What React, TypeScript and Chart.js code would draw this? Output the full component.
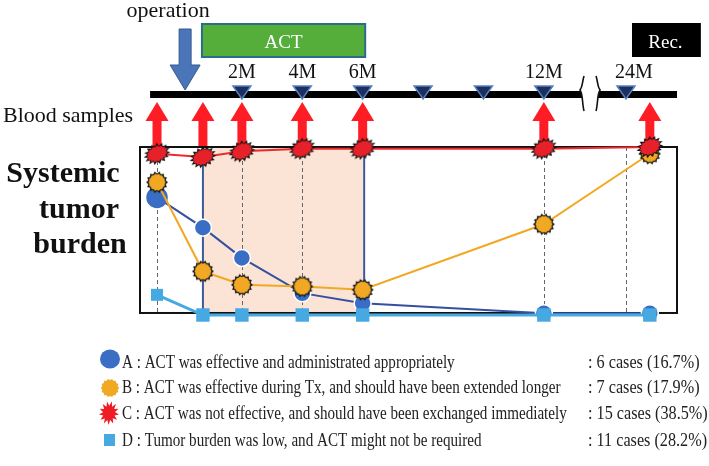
import React, { useEffect, useRef } from 'react';
import { Chart, registerables } from 'chart.js';

Chart.register(...registerables);

// ---------- data ----------
const SAMPLE_NAMES = ['Pre-op', 'Post-op', '2M', '4M', '6M', '12M', '24M'];
const SAMPLE_POS = [-0.81, 0.71, 2, 4, 6, 12, 15.51]; // position on the (broken) month axis
const SERIES_A = [70, 52, 34, 13, 7, 1, 1];
const SERIES_B = [79, 26, 18, 17, 15, 54, 96];
const SERIES_C = [96, 94, 97.5, 99, 99, 99, 100];
const SERIES_D = [12, 0, 0, 0, 0, 0, 0];

const VISIT_POS = [2, 4, 6, 8, 10, 12, 14.72];
const VISIT_LABELS = ['2M', '4M', '6M', '', '', '12M', '24M'];
const DASHED_POS = [-0.81, 2, 4, 12, 14.72];

const ACT_START = 0.71;
const ACT_END = 6.05;
const OPERATION_POS = 0.12;
const BREAK_POS = 13.53;
const TIMELINE_START = -1.04;
const REC_START = 14.92;
const REC_END = 17.2;

const LEGEND_TEXT = [
  'A : ACT was effective and administrated appropriately',
  'B : ACT was effective during Tx, and should have been extended longer',
  'C : ACT was not effective, and should have been exchanged immediately',
  'D : Tumor burden was low, and ACT might not be required',
];
const LEGEND_COUNTS = [
  ': 6 cases (16.7%)',
  ': 7 cases (17.9%)',
  ': 15 cases (38.5%)',
  ': 11 cases (28.2%)',
];

const X_MIN = -1.374;
const X_MAX = 16.41;

const SERIF = '"Liberation Serif", "Times New Roman", serif';

// ---------- marker images ----------
function spikyPath(g: CanvasRenderingContext2D, rx: number, ry: number, spikes: number, inner: number) {
  g.beginPath();
  for (let i = 0; i < spikes * 2; i++) {
    const a = (i * Math.PI) / spikes;
    const r = i % 2 === 0 ? 1 : inner;
    g.lineTo(Math.cos(a) * rx * r, Math.sin(a) * ry * r);
  }
  g.closePath();
}

function makeMarker(
  size: number,
  rotDeg: number,
  layers: { rx: number; ry: number; spikes: number; inner: number; fill: string }[]
) {
  const c = document.createElement('canvas');
  c.width = size;
  c.height = size;
  const g = c.getContext('2d')!;
  g.translate(size / 2, size / 2);
  g.rotate((rotDeg * Math.PI) / 180);
  for (const l of layers) {
    spikyPath(g, l.rx, l.ry, l.spikes, l.inner);
    g.fillStyle = l.fill;
    g.fill();
  }
  return c;
}

const ORANGE = '#f1a924';
const RED = '#e6212a';
const BLUE = '#3a6ec4';
const LIGHTBLUE = '#46a9e1';

export default function App() {
  const ref = useRef<HTMLCanvasElement>(null);

  useEffect(() => {
    const canvas = ref.current!;
    const markerB = makeMarker(26, 0, [
      { rx: 11, ry: 11, spikes: 14, inner: 0.8, fill: '#111' },
      { rx: 8.6, ry: 8.6, spikes: 14, inner: 0.9, fill: ORANGE },
    ]);
    const markerC = makeMarker(32, -25, [
      { rx: 14, ry: 10.5, spikes: 15, inner: 0.72, fill: '#111' },
      { rx: 11, ry: 7.8, spikes: 15, inner: 0.85, fill: RED },
    ]);
    const legendB = makeMarker(22, 0, [{ rx: 9.2, ry: 9.2, spikes: 14, inner: 0.86, fill: ORANGE }]);
    const legendC = makeMarker(30, 8, [{ rx: 10, ry: 12, spikes: 13, inner: 0.6, fill: '#ee1c25' }]);

    const pts = (vals: number[]) => SAMPLE_POS.map((x, i) => ({ x, y: vals[i] }));

    const decor = {
      id: 'decor',
      beforeDatasetsDraw(chart: any) {
        const ctx: CanvasRenderingContext2D = chart.ctx;
        const xs = chart.scales.x;
        const ys = chart.scales.y;
        const px = (m: number) => xs.getPixelForValue(m);
        const py = (v: number) => ys.getPixelForValue(v);
        const top = py(100);
        const bottom = py(1.2);
        const left = chart.chartArea.left;
        const right = chart.chartArea.right;
        ctx.save();

        // ACT shaded period
        ctx.fillStyle = '#fbe4d5';
        ctx.fillRect(px(ACT_START), top, px(ACT_END) - px(ACT_START), bottom - top);

        // dashed guides
        ctx.strokeStyle = '#666';
        ctx.lineWidth = 1;
        ctx.setLineDash([4, 3]);
        for (const m of DASHED_POS) {
          ctx.beginPath();
          ctx.moveTo(Math.round(px(m)) + 0.5, top);
          ctx.lineTo(Math.round(px(m)) + 0.5, bottom);
          ctx.stroke();
        }
        ctx.setLineDash([]);

        // ACT period borders
        ctx.strokeStyle = '#3b5a9c';
        ctx.lineWidth = 2;
        for (const m of [ACT_START, ACT_END]) {
          ctx.beginPath();
          ctx.moveTo(px(m), top);
          ctx.lineTo(px(m), bottom);
          ctx.stroke();
        }

        // frame
        ctx.strokeStyle = '#111';
        ctx.lineWidth = 2;
        ctx.strokeRect(left, top, right - left, bottom - top);

        // ---------- timeline ----------
        ctx.fillStyle = '#111';
        ctx.font = `22px ${SERIF}`;
        ctx.textAlign = 'center';
        ctx.textBaseline = 'alphabetic';
        ctx.fillText('operation', px(OPERATION_POS) - 17, 17);

        const ox = px(OPERATION_POS);
        ctx.beginPath();
        ctx.moveTo(ox - 6, 29);
        ctx.lineTo(ox + 6, 29);
        ctx.lineTo(ox + 6, 65);
        ctx.lineTo(ox + 15, 65);
        ctx.lineTo(ox, 90);
        ctx.lineTo(ox - 15, 65);
        ctx.lineTo(ox - 6, 65);
        ctx.closePath();
        ctx.fillStyle = '#4a76b9';
        ctx.fill();
        ctx.strokeStyle = '#35598f';
        ctx.lineWidth = 1;
        ctx.stroke();

        // ACT box
        const ax0 = px(ACT_START) - 1;
        const ax1 = px(ACT_END) + 1;
        ctx.fillStyle = '#55ae3a';
        ctx.fillRect(ax0, 24, ax1 - ax0, 33);
        ctx.strokeStyle = '#2b6c8a';
        ctx.lineWidth = 2;
        ctx.strokeRect(ax0, 24, ax1 - ax0, 33);
        ctx.fillStyle = '#fff';
        ctx.font = `19px ${SERIF}`;
        ctx.fillText('ACT', (ax0 + ax1) / 2, 48);

        // Rec. box
        const rx0 = px(REC_START);
        const rx1 = px(REC_END);
        ctx.fillStyle = '#000';
        ctx.fillRect(rx0, 23, rx1 - rx0, 34);
        ctx.fillStyle = '#fff';
        ctx.fillText('Rec.', (rx0 + rx1) / 2 - 1, 48);

        // bar
        ctx.fillStyle = '#000';
        ctx.fillRect(px(TIMELINE_START), 91, right - px(TIMELINE_START), 7);

        // break symbol
        const bx = px(BREAK_POS);
        const leftDown = () => {
          ctx.moveTo(bx - 6, 76);
          ctx.bezierCurveTo(bx - 8, 82, bx - 7, 86, bx - 10, 90);
          ctx.bezierCurveTo(bx - 7, 94, bx - 8, 104, bx - 6, 111);
        };
        const rightUp = () => {
          ctx.lineTo(bx + 6, 111);
          ctx.bezierCurveTo(bx + 8, 104, bx + 7, 94, bx + 10, 90);
          ctx.bezierCurveTo(bx + 7, 86, bx + 8, 82, bx + 6, 76);
        };
        ctx.beginPath();
        leftDown();
        rightUp();
        ctx.closePath();
        ctx.fillStyle = '#fff';
        ctx.fill();
        ctx.strokeStyle = '#111';
        ctx.lineWidth = 1.6;
        ctx.beginPath();
        leftDown();
        ctx.stroke();
        ctx.beginPath();
        ctx.moveTo(bx + 6, 111);
        ctx.bezierCurveTo(bx + 8, 104, bx + 7, 94, bx + 10, 90);
        ctx.bezierCurveTo(bx + 7, 86, bx + 8, 82, bx + 6, 76);
        ctx.stroke();

        // visit triangles and labels
        ctx.font = `20px ${SERIF}`;
        VISIT_POS.forEach((m, i) => {
          const cx = px(m);
          ctx.beginPath();
          ctx.moveTo(cx - 9, 86);
          ctx.lineTo(cx + 9, 86);
          ctx.lineTo(cx, 99);
          ctx.closePath();
          ctx.fillStyle = '#1d2f5c';
          ctx.fill();
          ctx.strokeStyle = '#5681c2';
          ctx.lineWidth = 1.5;
          ctx.stroke();
          if (VISIT_LABELS[i]) {
            ctx.fillStyle = '#111';
            ctx.fillText(VISIT_LABELS[i], cx + (i === VISIT_POS.length - 1 ? 8 : 0), 78);
          }
        });

        // blood sample arrows
        ctx.fillStyle = '#ff1d25';
        SAMPLE_POS.forEach((m) => {
          const cx = px(m);
          ctx.beginPath();
          ctx.moveTo(cx, 102);
          ctx.lineTo(cx + 11.5, 121);
          ctx.lineTo(cx + 4.5, 121);
          ctx.lineTo(cx + 4.5, 146);
          ctx.lineTo(cx - 4.5, 146);
          ctx.lineTo(cx - 4.5, 121);
          ctx.lineTo(cx - 11.5, 121);
          ctx.closePath();
          ctx.fill();
        });

        // left labels
        ctx.fillStyle = '#111';
        ctx.textAlign = 'left';
        ctx.font = `22px ${SERIF}`;
        ctx.fillText('Blood samples', 3, 122);
        ctx.textAlign = 'center';
        ctx.font = `bold 30px ${SERIF}`;
        ctx.fillText('Systemic', 63, 182);
        ctx.fillText('tumor', 79, 218);
        ctx.fillText('burden', 80, 253);

        // ---------- legend ----------
        const rowY = [363, 388, 414, 441];
        ctx.textBaseline = 'middle';
        ctx.textAlign = 'left';
        ctx.font = `18px ${SERIF}`;
        ctx.fillStyle = '#222';
        LEGEND_TEXT.forEach((t, i) => {
          const y = rowY[i];
          ctx.save();
          ctx.translate(122, y);
          ctx.scale(0.84, 1);
          ctx.fillText(t, 0, 0);
          ctx.restore();
          ctx.save();
          ctx.translate(588, y);
          ctx.scale(0.9, 1);
          ctx.fillText(LEGEND_COUNTS[i], 0, 0);
          ctx.restore();
        });
        // legend icons
        ctx.fillStyle = BLUE;
        ctx.beginPath();
        ctx.ellipse(110, 359, 10, 9.5, 0, 0, Math.PI * 2);
        ctx.fill();
        ctx.drawImage(legendB, 110 - legendB.width / 2, 388 - legendB.height / 2);
        ctx.drawImage(legendC, 109 - legendC.width / 2, 413 - legendC.height / 2);
        ctx.fillStyle = LIGHTBLUE;
        ctx.fillRect(104, 434, 11, 12);

        ctx.restore();
      },
    };

    const chart = new Chart(canvas, {
      type: 'line',
      data: {
        datasets: [
          {
            label: 'A',
            data: pts(SERIES_A),
            order: 4,
            borderColor: '#34509f',
            borderWidth: 2,
            backgroundColor: BLUE,
            pointBackgroundColor: BLUE,
            pointBorderColor: ['#3a6ec4', '#fff', '#fff', '#fff', '#fff', '#fff', '#fff'],
            pointBorderWidth: 1.5,
            pointRadius: [10, 8.5, 8.5, 8.5, 8.5, 8.5, 8.5],
            pointStyle: 'circle',
            tension: 0,
            clip: false,
          } as any,
          {
            label: 'D',
            data: pts(SERIES_D),
            order: 3,
            borderColor: LIGHTBLUE,
            borderWidth: 3,
            backgroundColor: LIGHTBLUE,
            pointBackgroundColor: LIGHTBLUE,
            pointBorderColor: LIGHTBLUE,
            pointBorderWidth: 0,
            pointRadius: [8.5, 9.5, 9.5, 9.5, 9.5, 9.5, 9.5],
            pointStyle: 'rect',
            tension: 0,
            clip: false,
          } as any,
          {
            label: 'B',
            data: pts(SERIES_B),
            order: 2,
            borderColor: ORANGE,
            borderWidth: 2,
            pointStyle: markerB,
            pointRadius: 10,
            tension: 0,
            clip: false,
          } as any,
          {
            label: 'C',
            data: pts(SERIES_C),
            order: 1,
            borderColor: '#ee2a2f',
            borderWidth: 2,
            pointStyle: markerC,
            pointRadius: 10,
            tension: 0,
            clip: false,
          } as any,
        ],
      },
      options: {
        animation: false,
        responsive: false,
        devicePixelRatio: 1,
        layout: { padding: { left: 140, right: 32, top: 147, bottom: 151 } },
        scales: {
          x: { type: 'linear', min: X_MIN, max: X_MAX, display: false },
          y: { type: 'linear', min: 0, max: 100, display: false },
        },
        plugins: {
          legend: { display: false },
          tooltip: { enabled: false },
          title: { display: false },
        },
        events: [],
      },
      plugins: [decor],
    });
    return () => chart.destroy();
  }, []);

  return (
    <div style={{ position: 'fixed', left: 0, top: 0, width: 709, height: 466, background: '#fff' }}>
      <canvas ref={ref} width={709} height={466} style={{ display: 'block' }} />
    </div>
  );
}
